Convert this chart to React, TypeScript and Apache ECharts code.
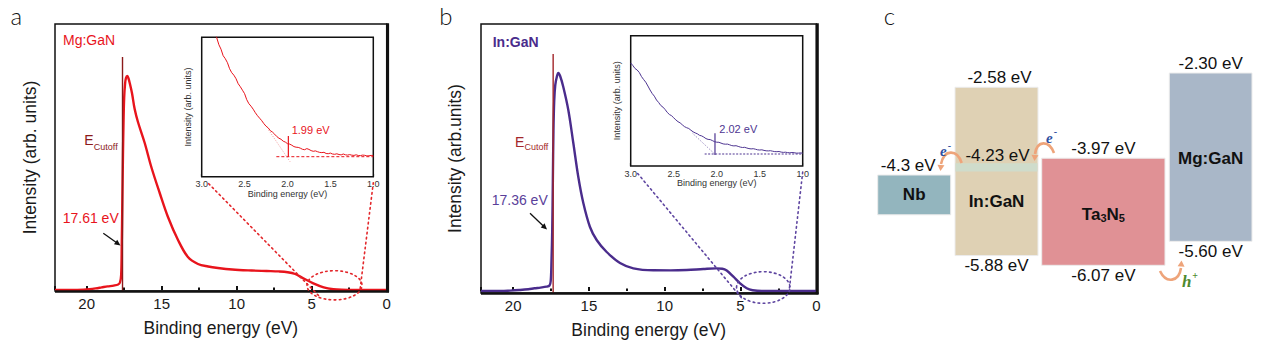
import React, { useEffect, useRef } from "react";
import * as echarts from "echarts";

const FONT = "'Liberation Sans', Arial, Helvetica, sans-serif";
const SERIF = "'Liberation Serif', 'DejaVu Serif', serif";
const W = 1263;
const H = 347;

// ---------- Panel a : Mg:GaN UPS spectrum ----------
const mgEnergy = [22.11, 21, 20.2, 19.8, 19.4, 19.0, 18.6, 18.2, 17.9, 17.78, 17.7, 17.66, 17.62, 17.58, 17.54, 17.5, 17.44, 17.38, 17.29, 17.2, 17.13, 16.98, 16.8, 16.58, 16.13, 15.69, 15.13, 14.58, 13.91, 13.25, 12.58, 11.9, 11.25, 10.3, 9.0, 8.0, 7.2, 6.6, 6.1, 5.56, 4.89, 4.2, 3.56, 3.0, 2.0, 1.0, 0];
const mgIntensity = [0, 0, 0.3, 0.8, 1.6, 2.6, 3.6, 4.4, 5.5, 7.5, 15, 45, 90, 135, 170, 192, 206, 212, 214, 211, 207, 197, 181, 168, 147, 123, 97, 73, 50, 33, 26, 23.5, 22, 20.5, 19.5, 19, 18.6, 17.8, 16, 11.7, 6.7, 2.7, 0.8, 0.2, 0, 0, 0];
const mgCutoff = 17.61;
const mgCutoffTop = 233;
// inset a
const mgInsetEnergy = [2.85, 2.825, 2.8, 2.775, 2.75, 2.725, 2.7, 2.675, 2.65, 2.625, 2.6, 2.575, 2.55, 2.525, 2.5, 2.475, 2.45, 2.425, 2.4, 2.375, 2.35, 2.325, 2.3, 2.275, 2.25, 2.225, 2.2, 2.175, 2.15, 2.125, 2.1, 2.075, 2.05, 2.025, 2.0, 1.975, 1.95, 1.925, 1.9, 1.875, 1.85, 1.825, 1.8, 1.775, 1.75, 1.725, 1.7, 1.675, 1.65, 1.625, 1.6, 1.575, 1.55, 1.525, 1.5, 1.475, 1.45, 1.425, 1.4, 1.375, 1.35, 1.325, 1.3, 1.275, 1.25, 1.225, 1.2, 1.175, 1.15, 1.125, 1.1, 1.075, 1.05, 1.025, 1.0];
const mgInsetIntensity = [146, 139, 132, 127.5, 121, 118, 114, 108, 104, 101.5, 98, 93, 90, 86.5, 83, 77, 73, 70.5, 67.5, 64, 61, 58.5, 56, 53, 50.5, 48.8, 46, 44.6, 42.5, 40.2, 38.5, 37.4, 35.5, 34.6, 33, 32.6, 31.5, 30.1, 29.5, 29.3, 28.5, 27.4, 27, 28.1, 27.3, 26.1, 25.4, 25.8, 25, 24.3, 24.1, 24.4, 23.2, 23.0, 23.6, 22.7, 22.4, 22.9, 22.2, 21.8, 22.7, 21.9, 21.6, 22.1, 21.5, 21.3, 21.9, 21.2, 21.1, 21.6, 21.4, 20.8, 20.9, 21.3, 21.1];
const mgOnset = 1.99;
const mgTangentE = [2.22, 1.97];
const mgTangentI = [46.7, 15];
const mgBaseE = [2.13, 1.0];
const mgBaseI = 20;
const mgMarkerTop = 40.7;

// ---------- Panel b : In:GaN UPS spectrum ----------
const inEnergy = [22.12, 20.8, 20.2, 19.6, 19.0, 18.6, 18.2, 17.8, 17.6, 17.52, 17.47, 17.42, 17.38, 17.34, 17.29, 17.22, 17.12, 17.02, 16.9, 16.69, 16.36, 16.03, 15.7, 15.37, 14.93, 14.49, 13.83, 12.95, 12.07, 10.75, 9.6, 8.55, 7.45, 6.6, 6.2, 5.91, 5.47, 5.03, 4.59, 4.2, 3.6, 2.0, 0];
const inIntensity = [0, 0, 0.4, 1, 1.8, 2.7, 3.4, 4.3, 5.5, 10, 30, 62, 110, 160, 190, 206, 214, 218, 215, 204, 181, 148, 114, 88, 64, 51, 39, 28, 22.7, 20.7, 20.6, 21, 22, 22.6, 22.3, 20.5, 14.3, 7.7, 2.7, 0.8, 0, 0, 0];
const inCutoff = 17.36;
const inCutoffTop = 237;
// inset b
const inInsetEnergy = [3.0, 2.975, 2.95, 2.925, 2.9, 2.875, 2.85, 2.825, 2.8, 2.775, 2.75, 2.725, 2.7, 2.675, 2.65, 2.625, 2.6, 2.575, 2.55, 2.525, 2.5, 2.475, 2.45, 2.425, 2.4, 2.375, 2.35, 2.325, 2.3, 2.275, 2.25, 2.225, 2.2, 2.175, 2.15, 2.125, 2.1, 2.075, 2.05, 2.025, 2.0, 1.975, 1.95, 1.925, 1.9, 1.875, 1.85, 1.825, 1.8, 1.775, 1.75, 1.725, 1.7, 1.675, 1.65, 1.625, 1.6, 1.575, 1.55, 1.525, 1.5, 1.475, 1.45, 1.425, 1.4, 1.375, 1.35, 1.325, 1.3, 1.275, 1.25, 1.225, 1.2, 1.175, 1.15, 1.125, 1.1, 1.075, 1.05, 1.025, 1.0];
const inInsetIntensity = [103, 100.5, 97.5, 96, 93.5, 89.5, 86.5, 83.8, 80, 76, 72.5, 69.8, 66, 63.5, 60.5, 58.9, 56.5, 53.6, 51.5, 50.3, 48.2, 46.1, 44.3, 43.1, 41.2, 39.4, 38.3, 37.5, 35.8, 34.2, 33.1, 32.2, 30.7, 30.1, 28.9, 27.4, 26.6, 26.4, 25.4, 24.3, 23.8, 23.7, 22.9, 22.1, 21.8, 21.9, 21.2, 20.4, 20.1, 20.3, 19.6, 18.9, 18.5, 18.7, 18.0, 17.4, 17.1, 17.3, 16.8, 16.2, 16.0, 16.2, 15.6, 15.2, 15.1, 15.3, 14.8, 14.4, 14.3, 14.5, 13.9, 13.6, 13.8, 13.4, 13.2, 13.5, 13.3, 12.9, 12.9, 13.1, 12.8];
const inOnset = 2.02;
const inTangentE = [2.28, 2.02];
const inTangentI = [32.7, 11.7];
const inBaseE = [2.14, 1.0];
const inBaseI = 12;
const inMarkerTop = 32.7;

// ---------- Panel c : band alignment ----------
const materials = ["Nb", "In:GaN", "Ta3N5", "Mg:GaN"];
const cbmEV = [-4.3, -2.58, -3.97, -2.3];
const vbmEV = [-5.08, -5.88, -6.07, -5.6];
const cbmLabels = ["-4.3 eV", "-2.58 eV", "-3.97 eV", "-2.30 eV"];
const vbmLabels = ["", "-5.88 eV", "-6.07 eV", "-5.60 eV"];
const inganLevel = -4.23;
const inganLevelLabel = "-4.23 eV";

// layout (not data)
const BOX_X = [[37.7, 110.7], [115, 198], [201.7, 325], [329.3, 412]];
const BOX_COLORS = ["#93b5be", "#dfd1b4", "#e09195", "#a9b7c8"];
const NAME_E = [-4.68, -4.82, -5.045, -3.97];
const TOP_DX = [-6, 3, 0, 0];
const BAND_H = 0.16;

const RED = "#e8141c";
const PURPLE = "#4a2c8c";

const zip = (xs: number[], ys: number[]) => xs.map((x, i) => [x, ys[i]]);

function font(size: number, weight = "normal", style = "normal", fam = FONT) {
  return `${style} ${weight} ${size}px ${fam}`;
}

function txt(x: number, y: number, text: string, size: number, fill: string, opts: any = {}) {
  const align = opts.align || "left";
  return {
    type: "text",
    x,
    y,
    silent: true,
    z: 50,
    style: {
      text,
      fill,
      font: font(size, opts.weight || "normal", opts.style || "normal", opts.family || FONT),
      textAlign: align,
      align,
      textVerticalAlign: "middle",
      verticalAlign: "middle",
    },
  };
}

function arrowHead(tip: number[], from: number[], len: number, half: number, color: string) {
  const dx = tip[0] - from[0];
  const dy = tip[1] - from[1];
  const d = Math.hypot(dx, dy);
  const ux = dx / d;
  const uy = dy / d;
  const bx = tip[0] - ux * len;
  const by = tip[1] - uy * len;
  return {
    type: "polygon",
    silent: true,
    z: 50,
    shape: { points: [[tip[0], tip[1]], [bx - uy * half, by + ux * half], [bx + uy * half, by - ux * half]] },
    style: { fill: color },
  };
}

function straightArrow(from: number[], to: number[]) {
  return [
    { type: "line", silent: true, z: 50, shape: { x1: from[0], y1: from[1], x2: to[0] - (to[0] - from[0]) * 0.2, y2: to[1] - (to[1] - from[1]) * 0.2 }, style: { stroke: "#111", lineWidth: 1.3 } },
    arrowHead(to, from, 6, 2.8, "#111"),
  ];
}

function curvedArrow(p: number[][], color: string) {
  // p: start, cp1, cp2, end, tip
  return [
    { type: "bezierCurve", silent: true, z: 50, shape: { x1: p[0][0], y1: p[0][1], cpx1: p[1][0], cpy1: p[1][1], cpx2: p[2][0], cpy2: p[2][1], x2: p[3][0], y2: p[3][1] }, style: { stroke: color, lineWidth: 2.6, fill: "none" } },
    arrowHead(p[4], p[3], 6, 3.5, color),
  ];
}

const mainX = (grid: number, max: number) => ({
  gridIndex: grid,
  type: "value",
  min: 0,
  max,
  inverse: true,
  interval: 5,
  axisLine: { show: false },
  axisTick: { show: true, inside: true, length: 4, lineStyle: { color: "#111", width: 2 } },
  minorTick: { show: true, splitNumber: 2, length: 2.5, lineStyle: { color: "#111", width: 2 } },
  splitLine: { show: false },
  axisLabel: {
    fontSize: 15,
    fontFamily: FONT,
    color: "#1a1a1a",
    margin: 5,
    formatter: (v: number) => (Math.abs(v % 5) < 1e-6 ? String(Math.round(v)) : ""),
  },
  name: "Binding energy (eV)",
  nameLocation: "middle",
  nameGap: 28,
  nameTextStyle: { fontSize: 17.5, fontFamily: FONT, color: "#1a1a1a" },
});

const mainY = (grid: number, min: number, max: number, name: string, gap: number) => ({
  gridIndex: grid,
  type: "value",
  min,
  max,
  axisLine: { show: false },
  axisTick: { show: false },
  axisLabel: { show: false },
  splitLine: { show: false },
  name,
  nameLocation: "middle",
  nameGap: gap,
  nameTextStyle: { fontSize: 17.5, fontFamily: FONT, color: "#1a1a1a" },
});

const insetX = (grid: number) => ({
  gridIndex: grid,
  type: "value",
  min: 1,
  max: 3,
  inverse: true,
  interval: 0.25,
  axisLine: { show: false },
  axisTick: { show: true, inside: true, length: 3, lineStyle: { color: "#111", width: 1.2 } },
  splitLine: { show: false },
  axisLabel: {
    fontSize: 9,
    fontFamily: FONT,
    color: "#333",
    margin: 3,
    formatter: (v: number) => (Math.abs(v * 2 - Math.round(v * 2)) < 1e-6 ? v.toFixed(1) : ""),
  },
  name: "Binding energy (eV)",
  nameLocation: "middle",
  nameGap: 12,
  nameTextStyle: { fontSize: 9, fontFamily: FONT, color: "#333" },
});

const insetY = (grid: number, max: number) => ({
  gridIndex: grid,
  type: "value",
  min: 0,
  max,
  axisLine: { show: false },
  axisTick: { show: false },
  axisLabel: { show: false },
  splitLine: { show: false },
  name: "Intensity (arb. units)",
  nameLocation: "middle",
  nameGap: 9,
  nameTextStyle: { fontSize: 9, fontFamily: FONT, color: "#333" },
});

const lineS = (x: number, y: number, data: number[][], color: string, width: number, extra: any = {}) => ({
  type: "line",
  xAxisIndex: x,
  yAxisIndex: y,
  data,
  showSymbol: false,
  symbol: "none",
  silent: true,
  clip: true,
  lineStyle: { color, width, ...(extra.lineStyle || {}) },
  smooth: extra.smooth || false,
  z: extra.z || 3,
});

function buildOption(): any {
  return {
    animation: false,
    backgroundColor: "#ffffff",
    grid: [
      { left: 55, top: 24, width: 331.7, height: 267, show: true, borderColor: "#111", borderWidth: 1.5 },
      { left: 201.7, top: 37.3, width: 171.6, height: 139.4, show: true, borderColor: "#111", borderWidth: 1.5, backgroundColor: "#fff", z: 1 },
      { left: 481, top: 24, width: 335.3, height: 269, show: true, borderColor: "#111", borderWidth: 1.5 },
      { left: 630.7, top: 35.7, width: 172, height: 130.3, show: true, borderColor: "#111", borderWidth: 1.5, backgroundColor: "#fff", z: 1 },
      { left: 840, top: 0, width: 423, height: 347, show: false },
    ],
    xAxis: [
      mainX(0, 22.11),
      insetX(1),
      mainX(2, 22.12),
      insetX(3),
      { gridIndex: 4, type: "value", min: 0, max: 423, show: false },
    ],
    yAxis: [
      mainY(0, -1, 266, "Intensity (arb. units)", 16),
      insetY(1, 139.4),
      mainY(2, -2, 267, "Intensity (arb.units)", 17),
      insetY(3, 130.3),
      { gridIndex: 4, type: "value", min: -7.672, max: -0.868, show: false },
    ],
    series: [
      lineS(0, 0, zip(mgEnergy, mgIntensity), RED, 2.4, { smooth: 0.35 }),
      lineS(0, 0, [[mgCutoff, -1], [mgCutoff, mgCutoffTop]], "#8b1a1a", 1.4, { z: 4 }),
      lineS(1, 1, zip(mgInsetEnergy, mgInsetIntensity), RED, 1, { z: 6 }),
      lineS(1, 1, zip(mgBaseE, [mgBaseI, mgBaseI]), RED, 1, { lineStyle: { type: [3, 2] }, z: 6 }),
      lineS(1, 1, zip(mgTangentE, mgTangentI), "#f29a9a", 1, { lineStyle: { type: [1, 1.5] }, z: 6 }),
      lineS(1, 1, [[mgOnset, mgBaseI], [mgOnset, mgMarkerTop]], RED, 1.2, { z: 6 }),

      lineS(2, 2, zip(inEnergy, inIntensity), PURPLE, 2.4, { smooth: 0.35 }),
      lineS(2, 2, [[inCutoff, -2], [inCutoff, inCutoffTop]], "#a3262a", 1.4, { z: 4 }),
      lineS(3, 3, zip(inInsetEnergy, inInsetIntensity), "#4e3591", 1, { z: 6 }),
      lineS(3, 3, zip(inBaseE, [inBaseI, inBaseI]), "#4e3591", 1.2, { lineStyle: { type: [2, 1.5] }, z: 6 }),
      lineS(3, 3, zip(inTangentE, inTangentI), "#8b7ab8", 1, { lineStyle: { type: [1, 1.5] }, z: 6 }),
      lineS(3, 3, [[inOnset, inBaseI - 1], [inOnset, inMarkerTop]], "#4e3591", 1.2, { z: 6 }),

      {
        type: "custom",
        xAxisIndex: 4,
        yAxisIndex: 4,
        silent: true,
        data: materials.map((m, i) => [i, cbmEV[i], vbmEV[i]]),
        renderItem: (params: any, api: any) => {
          const i = api.value(0);
          const [xa, xb] = BOX_X[i];
          const tl = api.coord([xa, api.value(1)]);
          const br = api.coord([xb, api.value(2)]);
          const cx = (tl[0] + br[0]) / 2;
          const ny = api.coord([xa, NAME_E[i]])[1];
          const t = (x: number, y: number, text: string, size: number, weight = "normal", rich?: any) => ({
            type: "text",
            x,
            y,
            style: {
              text,
              fill: "#111",
              font: font(size, weight),
              align: "center",
              textAlign: "center",
              verticalAlign: "middle",
              textVerticalAlign: "middle",
              rich,
            },
          });
          const children: any[] = [
            { type: "rect", shape: { x: tl[0], y: tl[1], width: br[0] - tl[0], height: br[1] - tl[1] }, style: { fill: BOX_COLORS[i], stroke: "#ececec", lineWidth: 1 } },
          ];
          if (i === 1) {
            const b1 = api.coord([xa, inganLevel + BAND_H]);
            const b2 = api.coord([xb, inganLevel]);
            children.push({ type: "rect", shape: { x: b1[0] + 0.5, y: b1[1], width: b2[0] - b1[0] - 1, height: b2[1] - b1[1] }, style: { fill: "#cfdccb" } });
            children.push(t(cx + 1, b1[1] - 8, inganLevelLabel, 17));
          }
          if (cbmLabels[i]) children.push(t(cx + TOP_DX[i], tl[1] - 9.5, cbmLabels[i], 17));
          if (vbmLabels[i]) children.push(t(cx, br[1] + 10, vbmLabels[i], 17));
          if (materials[i] === "Ta3N5") {
            children.push(
              t(cx, ny, "{m|Ta}{s|3}{m|N}{s|5}", 17, "bold", {
                m: { font: font(17, "bold"), fill: "#111", lineHeight: 20, verticalAlign: "bottom" },
                s: { font: font(11, "bold"), fill: "#111", lineHeight: 6, verticalAlign: "bottom" },
              })
            );
          } else {
            children.push(t(cx, ny, materials[i], 17, "bold"));
          }
          return { type: "group", children };
        },
      },
    ],
  };
}

function buildGraphics(chart: any): any[] {
  const els: any[] = [];
  // panel letters
  els.push(txt(16.3, 15.5, "a", 24, "#111", { align: "center", family: "Lato, " + FONT, weight: "300" }));
  els.push(txt(445.8, 15, "b", 24, "#111", { align: "center", family: "Lato, " + FONT, weight: "300" }));
  els.push(txt(889.3, 15.5, "c", 24, "#111", { align: "center", family: "Lato, " + FONT, weight: "300" }));

  // thick right/bottom frame edges
  els.push({ type: "line", silent: true, z: 40, shape: { x1: 387.6, y1: 23.3, x2: 387.6, y2: 292.3 }, style: { stroke: "#111", lineWidth: 3 } });
  els.push({ type: "line", silent: true, z: 40, shape: { x1: 55, y1: 291.5, x2: 389, y2: 291.5 }, style: { stroke: "#111", lineWidth: 2.5 } });
  els.push({ type: "line", silent: true, z: 40, shape: { x1: 817.3, y1: 23.3, x2: 817.3, y2: 294.3 }, style: { stroke: "#111", lineWidth: 3 } });
  els.push({ type: "line", silent: true, z: 40, shape: { x1: 481, y1: 293.5, x2: 818.5, y2: 293.5 }, style: { stroke: "#111", lineWidth: 2.5 } });

  // titles
  els.push(txt(63, 40, "Mg:GaN", 14, RED));
  els.push(txt(492.7, 41.7, "In:GaN", 14, PURPLE, { weight: "bold" }));

  // E cutoff labels
  els.push(txt(84.3, 140, "E", 14, "#8b1a1a"));
  els.push(txt(93.8, 146.7, "Cutoff", 9, "#8b1a1a"));
  els.push(txt(515, 141.7, "E", 14, "#a3262a"));
  els.push(txt(524.5, 146.7, "Cutoff", 9, "#a3262a"));

  // cutoff values + arrows
  els.push(txt(62.7, 218.3, "17.61 eV", 14, RED));
  els.push(...straightArrow([103.3, 233.3], [120.5, 245.5]));
  els.push(txt(491.7, 200, "17.36 eV", 14, "#5a3f9a"));
  els.push(...straightArrow([530, 213.3], [547, 229.5]));

  // onset labels in insets
  els.push(txt(291.7, 130, "1.99 eV", 11, RED));
  els.push(txt(719.3, 129, "2.02 eV", 11, "#4e3591"));

  // zoom connectors and ellipses
  const dots = (color: string) => ({ stroke: color, lineWidth: 1.6, lineDash: [1.6, 3.4], fill: "none", lineCap: "round" });
  const aC = chart.convertToPixel({ gridIndex: 0 }, [3.48, 4.7]);
  const aBL = chart.convertToPixel({ gridIndex: 1 }, [3, 0]);
  const aBR = chart.convertToPixel({ gridIndex: 1 }, [1, 0]);
  els.push({ type: "ellipse", silent: true, z: 45, shape: { cx: aC[0], cy: aC[1], rx: 27.5, ry: 14.6 }, style: dots("#e3272b") });
  els.push({ type: "line", silent: true, z: 45, shape: { x1: aBL[0] + 7, y1: aBL[1] + 7, x2: aC[0] - 14.5, y2: aC[1] + 11.7 }, style: dots("#e3272b") });
  els.push({ type: "line", silent: true, z: 45, shape: { x1: aBR[0], y1: aBR[1] + 6, x2: aC[0] + 25.5, y2: aC[1] + 4.7 }, style: dots("#e3272b") });

  const bC = chart.convertToPixel({ gridIndex: 2 }, [3.5, 3.5]);
  const bBL = chart.convertToPixel({ gridIndex: 3 }, [3, 0]);
  const bBR = chart.convertToPixel({ gridIndex: 3 }, [1, 0]);
  els.push({ type: "ellipse", silent: true, z: 45, shape: { cx: bC[0], cy: bC[1], rx: 26.7, ry: 15.8 }, style: dots("#5e45a0") });
  els.push({ type: "line", silent: true, z: 45, shape: { x1: bBL[0] + 7, y1: bBL[1] + 7.5, x2: bC[0] - 20, y2: bC[1] + 12.5 }, style: dots("#5e45a0") });
  els.push({ type: "line", silent: true, z: 45, shape: { x1: bBR[0], y1: bBR[1] + 6, x2: bC[0] + 26, y2: bC[1] + 2.5 }, style: dots("#5e45a0") });

  // panel c charge-transfer arrows
  const ORANGE = "#eea47a";
  els.push(...curvedArrow([[961.7, 163], [957, 149], [944, 149], [941, 164], [940.5, 171]], ORANGE));
  els.push(...curvedArrow([[1054, 153], [1049, 140], [1037, 140], [1035, 154], [1034.5, 161]], ORANGE));
  els.push(...curvedArrow([[1160, 271], [1166, 284], [1179, 282], [1181, 268], [1181.5, 260.5]], ORANGE));
  els.push(txt(943.3, 151, "e", 15, "#2f4fa0", { align: "center", family: SERIF, style: "italic", weight: "bold" }));
  els.push(txt(949.5, 145, "-", 10, "#2f4fa0", { align: "center", family: SERIF, weight: "bold" }));
  els.push(txt(1049.3, 137.5, "e", 15, "#2f4fa0", { align: "center", family: SERIF, style: "italic", weight: "bold" }));
  els.push(txt(1055.5, 131.5, "-", 10, "#2f4fa0", { align: "center", family: SERIF, weight: "bold" }));
  els.push(txt(1186.7, 281, "h", 17, "#4e8a2e", { align: "center", family: SERIF, style: "italic", weight: "bold" }));
  els.push(txt(1195, 275, "+", 10, "#4e8a2e", { align: "center", family: SERIF, weight: "bold" }));
  return els;
}

export default function App() {
  const ref = useRef<HTMLDivElement>(null);
  useEffect(() => {
    if (!ref.current) return;
    const chart = echarts.init(ref.current, null, { renderer: "svg", width: W, height: H });
    chart.setOption(buildOption());
    chart.setOption({ graphic: { elements: buildGraphics(chart) } });
    return () => chart.dispose();
  }, []);
  return <div ref={ref} style={{ position: "fixed", left: 0, top: 0, width: W, height: H, background: "#fff" }} />;
}
